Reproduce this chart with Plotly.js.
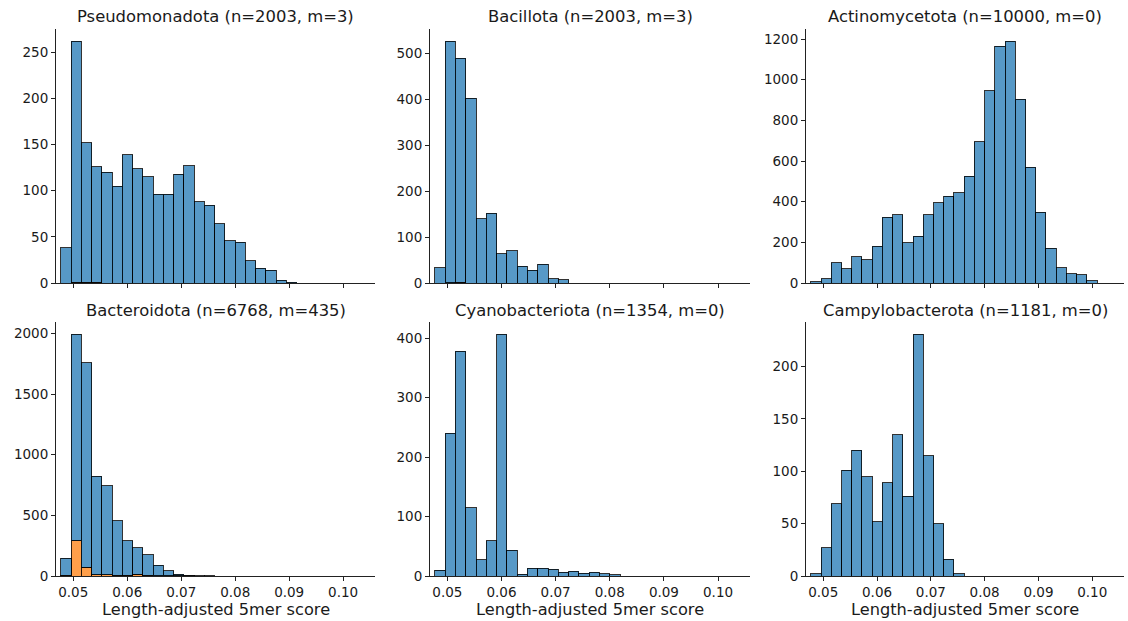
<!DOCTYPE html>
<html>
<head>
<meta charset="utf-8">
<script src="https://cdn.plot.ly/plotly-3.0.1.min.js"></script>
<style>html,body{margin:0;padding:0;background:#fff;}#chart{width:1128px;height:621px;}</style>
</head>
<body>
<div id="chart"></div>
<script>
// Histogram bins (shared by all panels)
const BIN_START = 0.0477;
const BIN_WIDTH = 0.0019;
const N_BINS = 30;

const titles = [
  "Pseudomonadota (n=2003, m=3)",
  "Bacillota (n=2003, m=3)",
  "Actinomycetota (n=10000, m=0)",
  "Bacteroidota (n=6768, m=435)",
  "Cyanobacteriota (n=1354, m=0)",
  "Campylobacterota (n=1181, m=0)"
];

// Total counts per bin
const pseudoTotal  = [38,262,152,126,120,105,139,124,115,96,96,118,127,88,84,64,46,44,24,16,14,3,1,0,0,0,0,0,0,0];
const bacilTotal   = [33,527,490,403,140,152,64,70,36,28,41,9,7,0,0,0,0,0,0,0,0,0,0,0,0,0,0,0,0,0];
const actinoTotal  = [5,21,99,71,130,114,180,323,336,199,231,336,394,427,445,524,696,946,1164,1190,903,570,348,171,74,45,40,12,0,0];
const bacteroTotal = [146,1994,1757,821,744,455,289,231,174,88,44,16,4,3,2,0,0,0,0,0,0,0,0,0,0,0,0,0,0,0];
const cyanoTotal   = [10,240,378,115,27,59,407,43,3,13,13,11,6,8,5,6,4,2,0,0,0,0,0,0,0,0,0,0,0,0];
const campyTotal   = [2,27,69,101,120,95,52,89,135,76,231,115,50,16,2,0,0,0,0,0,0,0,0,0,0,0,0,0,0,0];

// Flagged (m) counts per bin (orange)
const pseudoFlag  = [0,1,1,1,0,0,0,0,0,0,0,0,0,0,0,0,0,0,0,0,0,0,0,0,0,0,0,0,0,0];
const bacilFlag   = [0,1,2,0,0,0,0,0,0,0,0,0,0,0,0,0,0,0,0,0,0,0,0,0,0,0,0,0,0,0];
const actinoFlag  = [0,0,0,0,0,0,0,0,0,0,0,0,0,0,0,0,0,0,0,0,0,0,0,0,0,0,0,0,0,0];
const bacteroFlag = [5,289,74,10,10,8,5,16,8,4,3,2,1,0,0,0,0,0,0,0,0,0,0,0,0,0,0,0,0,0];
const cyanoFlag   = [0,0,0,0,0,0,0,0,0,0,0,0,0,0,0,0,0,0,0,0,0,0,0,0,0,0,0,0,0,0];
const campyFlag   = [0,0,0,0,0,0,0,0,0,0,0,0,0,0,0,0,0,0,0,0,0,0,0,0,0,0,0,0,0,0];

const xTickVals = [0.05, 0.06, 0.07, 0.08, 0.09, 0.10];
const yTickSteps = [50, 100, 200, 500, 100, 50];

const totals = [pseudoTotal, bacilTotal, actinoTotal, bacteroTotal, cyanoTotal, campyTotal];
const flags  = [pseudoFlag, bacilFlag, actinoFlag, bacteroFlag, cyanoFlag, campyFlag];

const W = 1128, H = 621;
const colPx = [[56,375],[430,750],[806,1124]];
const rowPx = [[29,283],[322,576]];
const titleY = [16, 310];

const centers = [];
for (let i = 0; i < N_BINS; i++) centers.push(BIN_START + BIN_WIDTH * (i + 0.5));

const BLUE = 'rgba(31,119,180,0.75)';
const ORANGE = 'rgba(255,127,14,0.75)';
const EDGE = {color: 'rgba(0,0,0,0.8)', width: 1};
const FONT = 'DejaVu Sans, sans-serif';
const TXT = '#1a1a1a';

const data = [];
const layout = {
  width: W, height: H,
  margin: {l:0, r:0, t:0, b:0},
  paper_bgcolor: '#fff', plot_bgcolor: '#fff',
  showlegend: false,
  barmode: 'stack',
  bargap: 0,
  font: {family: FONT, color: TXT, size: 13.5},
  annotations: []
};

for (let p = 0; p < 6; p++) {
  const r = Math.floor(p / 3), c = p % 3;
  const idx = p === 0 ? '' : String(p + 1);
  const xa = 'x' + idx, ya = 'y' + idx;
  const flag = flags[p];
  const rest = totals[p].map((v, i) => Math.max(v - flag[i], 0));
  data.push({type: 'bar', x: centers, y: flag, width: BIN_WIDTH, xaxis: xa, yaxis: ya,
    marker: {color: ORANGE, line: EDGE}, hoverinfo: 'x+y'});
  data.push({type: 'bar', x: centers, y: rest, width: BIN_WIDTH, xaxis: xa, yaxis: ya,
    marker: {color: BLUE, line: EDGE}, hoverinfo: 'x+y'});

  const ymax = Math.max(...totals[p]) * 1.05;
  layout['xaxis' + idx] = {
    domain: [colPx[c][0] / W, colPx[c][1] / W],
    anchor: ya,
    range: [0.0468, 0.1059],
    tickvals: xTickVals,
    ticktext: xTickVals.map(v => v.toFixed(2)),
    showticklabels: r === 1,
    ticks: 'outside', ticklen: 4, tickwidth: 1, tickcolor: '#222',
    showline: true, linecolor: '#222', linewidth: 1,
    showgrid: false, zeroline: false,
    tickfont: {family: FONT, size: 13.5, color: TXT}
  };
  layout['yaxis' + idx] = {
    domain: [1 - rowPx[r][1] / H, 1 - rowPx[r][0] / H],
    anchor: xa,
    range: [0, ymax],
    dtick: yTickSteps[p], tick0: 0,
    ticks: 'outside', ticklen: 4, tickwidth: 1, tickcolor: '#222',
    showline: true, linecolor: '#222', linewidth: 1,
    showgrid: false, zeroline: false,
    tickfont: {family: FONT, size: 13.5, color: TXT}
  };
  layout.annotations.push({
    text: titles[p], xref: 'paper', yref: 'paper',
    x: (colPx[c][0] + colPx[c][1]) / 2 / W, y: 1 - titleY[r] / H,
    xanchor: 'center', yanchor: 'middle', showarrow: false,
    font: {family: FONT, size: 16.4, color: TXT}
  });
  if (r === 1) {
    layout.annotations.push({
      text: 'Length-adjusted 5mer score', xref: 'paper', yref: 'paper',
      x: (colPx[c][0] + colPx[c][1]) / 2 / W, y: 1 - 609 / H,
      xanchor: 'center', yanchor: 'middle', showarrow: false,
      font: {family: FONT, size: 16.2, color: TXT}
    });
  }
}

Plotly.newPlot('chart', data, layout, {displayModeBar: false, staticPlot: true});
</script>
</body>
</html>
